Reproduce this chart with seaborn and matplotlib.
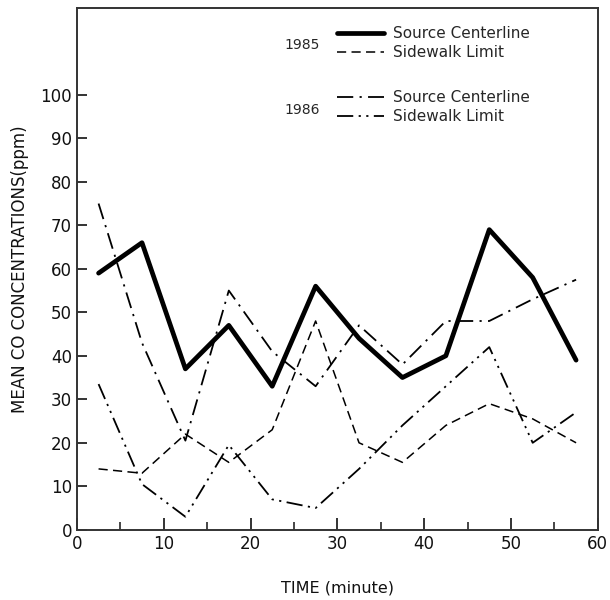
import numpy as np
import pandas as pd
import matplotlib
matplotlib.use('Agg')
import matplotlib.pyplot as plt
import seaborn as sns

# time midpoints (minute)
time_min = [2.5, 7.5, 12.5, 17.5, 22.5, 27.5, 32.5, 37.5, 42.5, 47.5, 52.5, 57.5]

# mean CO (ppm)
src_1985 = [59, 66, 37, 47, 33, 56, 44, 35, 40, 69, 58, 39]
side_1985 = [14, 13, 22, 15.5, 23, 48, 20, 15.5, 24, 29, 25.5, 20]
src_1986 = [75, 43, 20.5, 55, 41, 33, 47, 38, 48, 48, 53, 57.5]
side_1986 = [33.5, 10.5, 3, 19.5, 7, 5, 14, 24, 33, 42, 20, 27]

sns.set_style('ticks')
plt.rcParams['font.family'] = ['DejaVu Sans']

fig = plt.figure(figsize=(6.1, 6.0), dpi=100)
ax = fig.add_axes([0.126, 0.117, 0.854, 0.870])

styles = [
    (src_1985, 'Source Centerline', '-', 3.4),
    (side_1985, 'Sidewalk Limit', (0, (6, 3.5)), 1.1),
    (src_1986, 'Source Centerline', (0, (9, 3.5, 1.2, 3.5)), 1.3),
    (side_1986, 'Sidewalk Limit', (0, (9, 3, 1.2, 3, 1.2, 3)), 1.3),
]

for vals, lab, ls, lw in styles:
    df = pd.DataFrame({'t': time_min, 'co': vals})
    sns.lineplot(data=df, x='t', y='co', ax=ax, color='black',
                 linestyle=ls, linewidth=lw, label=lab)

ax.set_xlim(0, 60)
ax.set_ylim(0, 120)
ax.set_xticks(range(0, 61, 10))
ax.set_xticks(range(5, 60, 10), minor=True)
ax.set_yticks(range(0, 101, 10))
ax.tick_params(axis='both', direction='in', labelsize=12, width=1.2, colors='#111111')
ax.tick_params(axis='x', which='major', length=9)
ax.tick_params(axis='x', which='minor', length=6, width=1.2, direction='in')
ax.tick_params(axis='y', length=7)
for sp in ax.spines.values():
    sp.set_linewidth(1.4)
    sp.set_color('#333333')

ax.set_xlabel('TIME (minute)', fontsize=11.5, labelpad=20, color='#111111')
ax.set_ylabel('MEAN CO CONCENTRATIONS(ppm)', fontsize=12, labelpad=8, color='#111111')

handles = ax.get_lines()
ax.get_legend().remove()
leg_kw = dict(loc='upper left', frameon=False, fontsize=11, handlelength=3.1,
              handletextpad=0.6, labelspacing=0.25, borderaxespad=0, borderpad=0)
leg1 = ax.legend(handles[:2], [h.get_label() for h in handles[:2]],
                 bbox_to_anchor=(0.499, 0.965), **leg_kw)
ax.add_artist(leg1)
ax.legend(handles[2:], [h.get_label() for h in handles[2:]],
          bbox_to_anchor=(0.499, 0.842), **leg_kw)
ax.text(0.433, 0.929, '1985', transform=ax.transAxes, fontsize=10, ha='center', va='center')
ax.text(0.433, 0.805, '1986', transform=ax.transAxes, fontsize=10, ha='center', va='center')

plt.savefig('out.png', dpi=100)
